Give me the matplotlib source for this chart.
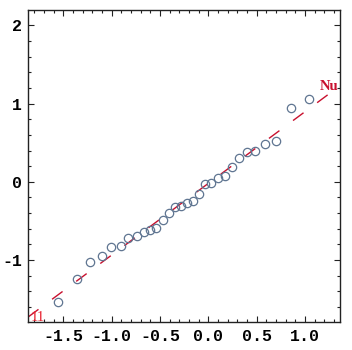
import matplotlib
matplotlib.use('Agg')
import matplotlib.pyplot as plt
import numpy as np
from matplotlib.ticker import MultipleLocator

# theoretical quantiles (x) against sample quantiles (y)
theoretical = [-1.554, -1.358, -1.223, -1.099, -1.006, -0.908, -0.830, -0.737,
               -0.665, -0.608, -0.541, -0.472, -0.403, -0.344, -0.282, -0.223,
               -0.161, -0.101, -0.039, 0.028, 0.103, 0.173, 0.242, 0.317,
               0.403, 0.483, 0.586, 0.700, 0.850, 1.041]
sample = [-1.543, -1.249, -1.026, -0.943, -0.831, -0.824, -0.716, -0.687,
          -0.642, -0.610, -0.585, -0.483, -0.393, -0.326, -0.310, -0.269,
          -0.240, -0.155, -0.023, -0.014, 0.050, 0.079, 0.194, 0.309,
          0.379, 0.390, 0.484, 0.517, 0.948, 1.059]

# reference line y = slope * x + intercept
slope = 0.917
intercept = -0.02
lineRange = [-1.865, 1.24]

xTicks = [-1.5, -1.0, -0.5, 0.0, 0.5, 1.0]
yTicks = [-1, 0, 1, 2]

fig = plt.figure(figsize=(3.52, 3.50), dpi=100)
ax = fig.add_axes([0.0795, 0.081, 0.8865, 0.890])

lineX = np.array(lineRange)
ax.plot(lineX, slope * lineX + intercept, color='#c8102e', linewidth=1.0,
        dashes=(9.4, 12.2), zorder=2)
ax.plot(theoretical, sample, linestyle='none', marker='o', markersize=6,
        markerfacecolor='none', markeredgecolor='#5f7591', markeredgewidth=0.9, zorder=3)

# line labels, clipped by the frame like in the original
ax.text(1.155, 1.178, 'Nu', color='#c8102e', fontsize=10.5, fontweight='bold',
        family='Liberation Serif', ha='left', va='baseline', clip_on=True)
ax.text(-1.685, -1.775, '11', color='#e8202e', fontsize=10.5,
        family='Liberation Serif', ha='right', va='baseline', clip_on=True)

ax.set_xlim(-1.865, 1.362)
ax.set_ylim(-1.788, 2.195)

ax.set_xticks(xTicks)
ax.set_xticklabels(['%.1f' % t for t in xTicks])
ax.set_yticks(yTicks)
ax.set_yticklabels([str(t) for t in yTicks])
ax.xaxis.set_minor_locator(MultipleLocator(0.1))
ax.yaxis.set_minor_locator(MultipleLocator(0.2))

ax.tick_params(which='both', direction='in', top=True, right=True, width=0.8, color='#222222')
ax.tick_params(which='major', length=4.5)
ax.tick_params(which='minor', length=2.3)
ax.tick_params(axis='x', pad=5)
ax.tick_params(axis='y', pad=4)
for lab in ax.get_xticklabels() + ax.get_yticklabels():
    lab.set_family('Liberation Mono')
    lab.set_fontweight('bold')
    lab.set_fontsize(12)

for s in ax.spines.values():
    s.set_linewidth(1.0)
    s.set_color('#222222')

fig.savefig('out.png', dpi=100)
